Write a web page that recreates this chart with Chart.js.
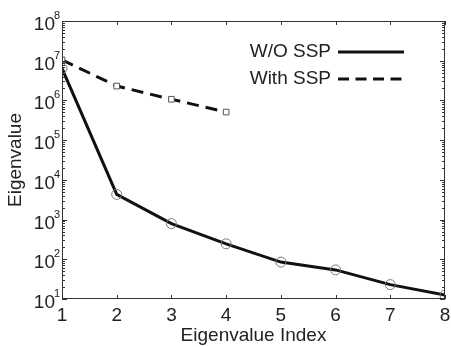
<!DOCTYPE html>
<html><head><meta charset="utf-8">
<script src="https://cdn.jsdelivr.net/npm/chart.js@4/dist/chart.umd.min.js"></script>
<style>html,body{margin:0;padding:0;background:#fff}#wrap{width:451px;height:347px}</style>
</head><body><div id="wrap"><canvas id="c" width="451" height="347"></canvas></div>
<script>
const categories = [1, 2, 3, 4, 5, 6, 7, 8];
const woSSP = [6.4e6, 4300, 790, 245, 85, 54, 23, 12.5];
const withSSP = [1.05e7, 2.3e6, 1.07e6, 5.1e5];
const seriesNames = ['W/O SSP', 'With SSP'];
const yExponents = [1, 2, 3, 4, 5, 6, 7, 8];
const xTitle = 'Eigenvalue Index';
const yTitle = 'Eigenvalue';

const FONT = 'Liberation Sans, Arial, Helvetica, sans-serif';

const framePlugin = {
  id: 'frame',
  afterDraw(chart) {
    const ctx = chart.ctx, a = chart.chartArea;
    const ys = chart.scales.y, xs = chart.scales.x;
    ctx.save();
    ctx.strokeStyle = '#333'; ctx.lineWidth = 1;
    ctx.strokeRect(a.left + 0.5, a.top + 0.5, a.right - a.left - 1, a.bottom - a.top - 1);
    ctx.beginPath();
    for (let e = yExponents[0]; e <= yExponents[yExponents.length - 1]; e++) {
      for (let m = 1; m <= 9; m++) {
        if (e === yExponents[yExponents.length - 1] && m > 1) break;
        const p = Math.round(ys.getPixelForValue(m * Math.pow(10, e))) + 0.5;
        const len = m === 1 ? 5 : 3;
        ctx.moveTo(a.left, p); ctx.lineTo(a.left + len, p);
        ctx.moveTo(a.right, p); ctx.lineTo(a.right - len, p);
      }
    }
    categories.forEach(c => {
      const p = Math.round(xs.getPixelForValue(c)) + 0.5;
      ctx.moveTo(p, a.bottom); ctx.lineTo(p, a.bottom - 4);
      ctx.moveTo(p, a.top); ctx.lineTo(p, a.top + 4);
    });
    ctx.stroke();
    ctx.fillStyle = '#222';
    // y tick labels with superscript exponent
    yExponents.forEach(e => {
      const p = ys.getPixelForValue(Math.pow(10, e));
      ctx.font = '11px ' + FONT;
      ctx.textAlign = 'left'; ctx.textBaseline = 'alphabetic';
      ctx.fillText(String(e), 54, p - 2);
      ctx.font = '19px ' + FONT;
      ctx.textAlign = 'right';
      ctx.fillText('10', 55, p + 9);
    });
    // x tick labels
    ctx.font = '19px ' + FONT;
    ctx.textAlign = 'center'; ctx.textBaseline = 'middle';
    categories.forEach(c => {
      ctx.fillText(String(c), xs.getPixelForValue(c), 316);
    });
    // axis titles
    ctx.fillText(xTitle, (a.left + a.right) / 2, 336);
    ctx.save();
    ctx.translate(16, (a.top + a.bottom) / 2);
    ctx.rotate(-Math.PI / 2);
    ctx.fillText(yTitle, 0, 0);
    ctx.restore();
    // legend
    ctx.textAlign = 'right';
    const ly = [52, 79];
    seriesNames.forEach((n, i) => {
      ctx.fillText(n, 331, ly[i]);
      ctx.beginPath();
      ctx.strokeStyle = '#111'; ctx.lineWidth = 3;
      ctx.setLineDash(i === 0 ? [] : [11, 6.5]);
      ctx.moveTo(338, ly[i]); ctx.lineTo(404, ly[i]);
      ctx.stroke();
    });
    ctx.restore();
  }
};

new Chart(document.getElementById('c'), {
  type: 'line',
  data: {
    datasets: [
      {
        label: seriesNames[0],
        data: woSSP.map((v, i) => ({x: categories[i], y: v})),
        borderColor: '#111', borderWidth: 3,
        pointStyle: 'circle', pointRadius: 5,
        pointBorderColor: '#777', pointBorderWidth: 1, pointBackgroundColor: 'rgba(0,0,0,0)',
        tension: 0
      },
      {
        label: seriesNames[1],
        data: withSSP.map((v, i) => ({x: categories[i], y: v})),
        borderColor: '#111', borderWidth: 3, borderDash: [12, 7],
        pointStyle: 'rect', pointRadius: 4,
        pointBorderColor: '#555', pointBorderWidth: 1, pointBackgroundColor: '#fff',
        tension: 0
      }
    ]
  },
  options: {
    responsive: false, animation: false,
    layout: {padding: {top: 21, right: 2, left: 0, bottom: 0}},
    plugins: {legend: {display: false}, tooltip: {enabled: false}},
    scales: {
      x: {
        type: 'linear', min: 1, max: 8,
        grid: {display: false}, border: {display: false},
        ticks: {stepSize: 1, callback: () => '', font: {size: 1}},
        afterFit(s) { s.height = 48; }
      },
      y: {
        type: 'logarithmic', min: 10, max: 1e8,
        grid: {display: false}, border: {display: false},
        ticks: {callback: () => '', font: {size: 1}},
        afterFit(s) { s.width = 62; }
      }
    }
  },
  plugins: [framePlugin]
});
</script>
</body></html>
